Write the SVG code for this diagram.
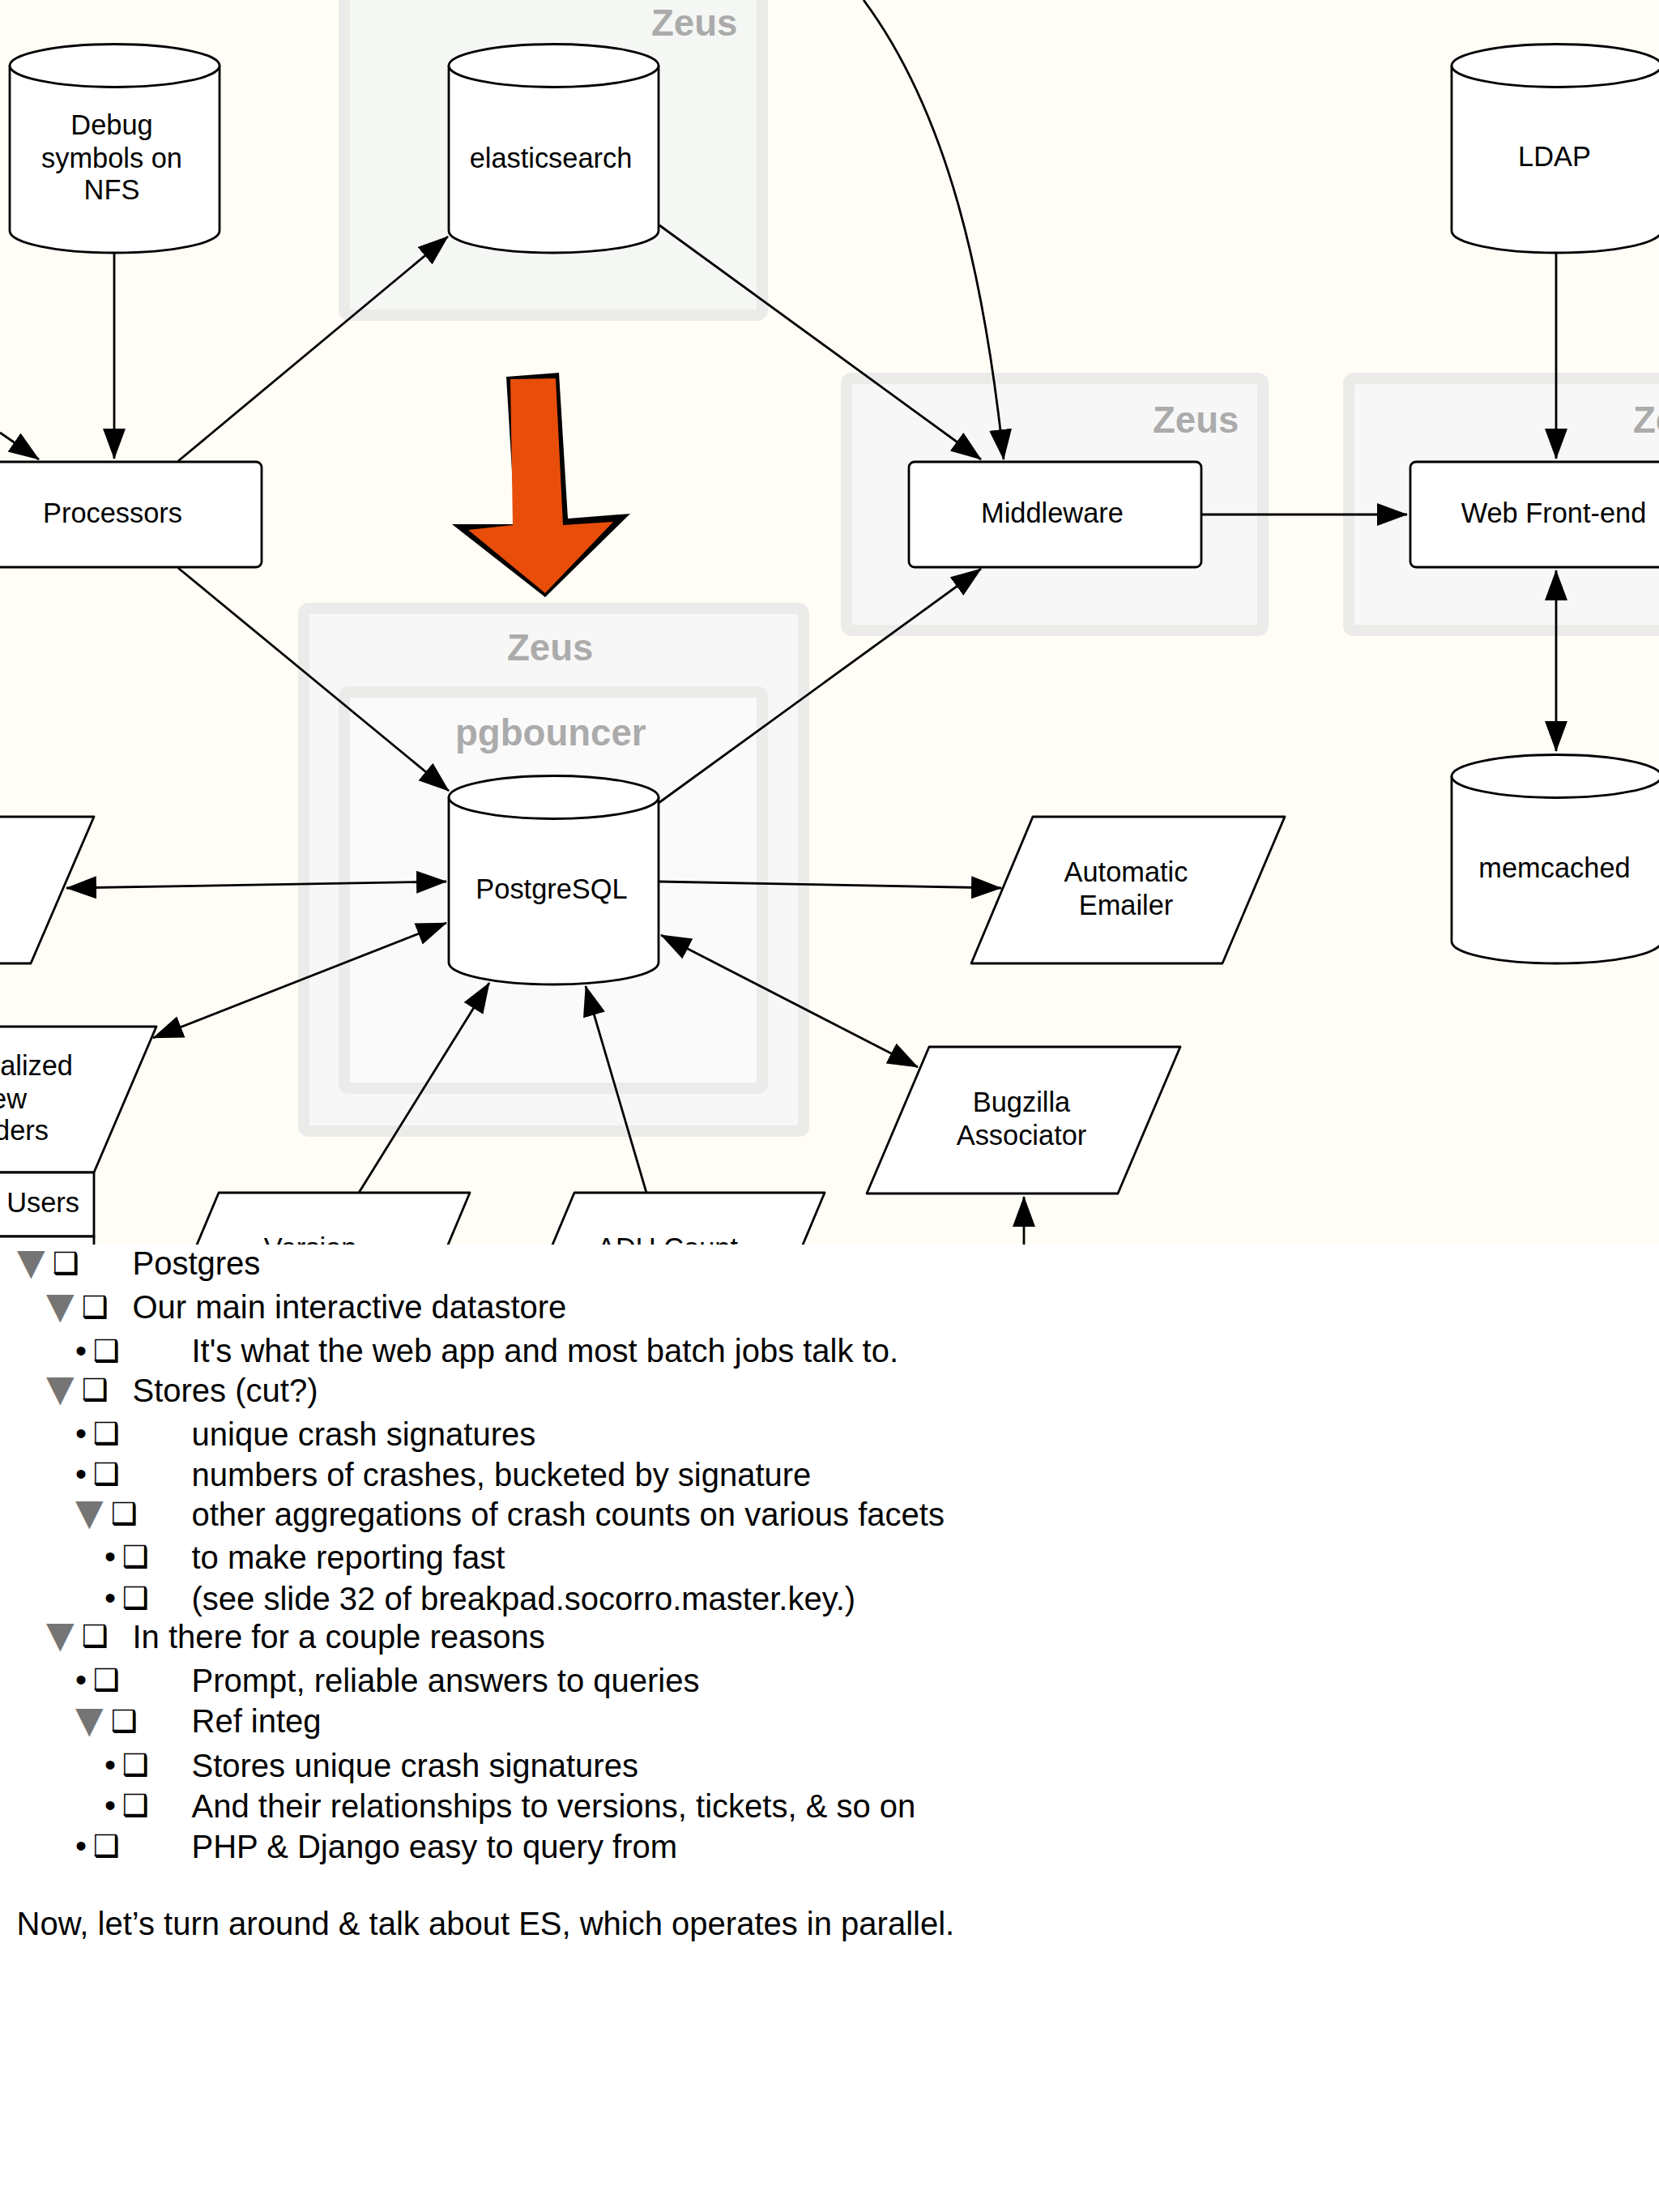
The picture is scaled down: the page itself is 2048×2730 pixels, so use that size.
<svg xmlns="http://www.w3.org/2000/svg" width="2048" height="2730" viewBox="0 0 2048 2730">
<style>
.n{fill:#fff;stroke:#000;stroke-width:2.8;stroke-linejoin:round}
.g{stroke:#ebebe9;stroke-width:14}
.gl{font:bold 45.6px "Liberation Sans",Arial,sans-serif;fill:#ababab}
.t{font:34.4px "Liberation Sans",Arial,sans-serif;fill:#000;text-anchor:middle}
.c{fill:none;stroke:#000;stroke-width:2.8}
.h{marker-end:url(#a)}
.d{marker-start:url(#a);marker-end:url(#a)}
.l{font:40px "Liberation Sans",Arial,sans-serif;fill:#000}
.tri{font:45px "DejaVu Sans",sans-serif;fill:#757575}
.box{font:36px "DejaVu Sans",sans-serif;fill:#000}
.dot{font:40px "Liberation Sans",Arial,sans-serif;fill:#000}
</style>
<defs>
<marker id="a" markerUnits="userSpaceOnUse" markerWidth="40" markerHeight="30" refX="37" refY="14" orient="auto-start-reverse"><path d="M0,0 L38,14 L0,28 Z" fill="#000"/></marker>
<g id="cyl"><path class="n" d="M0,27 V231 C0,246 58,258 129.5,258 S259,246 259,231 V27 Z"/><ellipse class="n" cx="129.5" cy="27" rx="129.5" ry="26.5"/></g>
<path id="sh" d="M27,-26 L30.5,-24 V1 H4 L1,-2.5 H27 Z" fill="#000"/>
</defs>
<rect width="2048" height="2730" fill="#fff"/>
<rect width="2048" height="1536" fill="#fffdf6"/>
<g id="groups">
<g id="zeus-elastic"><rect class="g" x="425" y="-30" width="516" height="419" rx="6" fill="#f5f7f4"/><text class="gl" x="804" y="44">Zeus</text></g>
<g id="zeus-middleware"><rect class="g" x="1045" y="467" width="514" height="311" rx="6" fill="#f8f7f7"/><text class="gl" x="1423" y="534">Zeus</text></g>
<g id="zeus-web"><rect class="g" x="1665" y="467" width="514" height="311" rx="6" fill="#f8f7f7"/><text class="gl" x="2016" y="534">Zeus</text></g>
<g id="zeus-postgres"><rect class="g" x="375" y="751" width="617" height="645" rx="6" fill="#f8f7f7"/><text class="gl" x="626" y="815">Zeus</text></g>
<g id="pgbouncer"><rect class="g" x="425" y="854" width="516" height="489" rx="6" fill="#fbfafa"/><text class="gl" x="562" y="920">pgbouncer</text></g>
</g>
<g id="connectors">
<path class="c h" d="M141,313 V566"/>
<path class="c h" d="M0,534 L48,567"/>
<path class="c h" d="M220,569 L553,292"/>
<path class="c h" d="M814,278 L1211,567"/>
<path class="c h" d="M1066,0 C1170,140 1215,340 1239,567"/>
<path class="c h" d="M1921,313 V566"/>
<path class="c h" d="M1484,635 H1737"/>
<path class="c d" d="M1921,704 V927"/>
<path class="c h" d="M813,991 L1211,702"/>
<path class="c h" d="M220,701 L554,976"/>
<path class="c d" d="M82,1096 L551,1088"/>
<path class="c d" d="M189,1281 L551,1139"/>
<path class="c h" d="M443,1472 L604,1213"/>
<path class="c h" d="M798,1472 L723,1217"/>
<path class="c h" d="M813,1088 L1236,1096"/>
<path class="c d" d="M816,1154 L1133,1317"/>
<path class="c h" d="M1264,1536 V1477"/>
</g>
<g id="debug"><use href="#cyl" x="12" y="54"/><text class="t" x="138" y="166">Debug</text><text class="t" x="138" y="207">symbols on</text><text class="t" x="138" y="246">NFS</text></g>
<g id="elasticsearch"><use href="#cyl" x="554" y="54"/><text class="t" x="680" y="207">elasticsearch</text></g>
<g id="ldap"><use href="#cyl" x="1792" y="54"/><text class="t" x="1919" y="205">LDAP</text></g>
<g id="memcached"><use href="#cyl" x="1792" y="931"/><text class="t" x="1919" y="1083">memcached</text></g>
<g id="postgresql"><use href="#cyl" x="554" y="957"/><text class="t" x="681" y="1109">PostgreSQL</text></g>
<g id="processors"><rect class="n" x="-40" y="570" width="363" height="130" rx="7"/><text class="t" x="139" y="645">Processors</text></g>
<g id="middleware"><rect class="n" x="1122" y="570" width="361" height="130" rx="7"/><text class="t" x="1299" y="645">Middleware</text></g>
<g id="webfrontend"><rect class="n" x="1741" y="570" width="360" height="130" rx="7"/><text class="t" x="1918" y="645">Web Front-end</text></g>
<g id="left-para"><path class="n" d="M-196,1008 H116 L38,1189 H-272 Z"/></g>
<g id="materialized"><path class="n" d="M-117,1267 H193 L116,1447 H-194 Z"/><text class="t" style="text-anchor:end" x="90" y="1327">alized</text><text class="t" style="text-anchor:end" x="33" y="1368">ew</text><text class="t" style="text-anchor:end" x="60" y="1407">ders</text></g>
<g id="users"><rect class="n" x="-60" y="1447" width="176" height="79"/><rect class="n" x="-60" y="1526" width="176" height="30"/><text class="t" style="text-anchor:end" x="98" y="1496">Users</text></g>
<g id="emailer"><path class="n" d="M1275,1008 H1586 L1509,1189 H1199 Z"/><text class="t" x="1390" y="1088">Automatic</text><text class="t" x="1390" y="1129">Emailer</text></g>
<g id="bugzilla"><path class="n" d="M1147,1292 H1457 L1380,1473 H1070 Z"/><text class="t" x="1261" y="1372">Bugzilla</text><text class="t" x="1261" y="1413">Associator</text></g>
<g id="version"><path class="n" d="M270,1472 H580 L504,1653 H194 Z"/><text class="t" x="383" y="1552">Version</text></g>
<g id="adu"><path class="n" d="M709,1472 H1018 L942,1653 H633 Z"/><text class="t" x="824" y="1552">ADU Count</text></g>
<rect y="1536" width="2048" height="1194" fill="#fff"/>
<g id="outline">
<text class="tri" x="21" y="1573">▼</text><use href="#sh" x="65" y="1573"/><text class="box" x="65" y="1571">❑</text><text class="l" x="163.5" y="1573">Postgres</text>
<text class="tri" x="57" y="1627">▼</text><use href="#sh" x="101" y="1627"/><text class="box" x="101" y="1625">❑</text><text class="l" x="163.5" y="1627">Our main interactive datastore</text>
<text class="dot" x="93" y="1681">•</text><use href="#sh" x="115" y="1681"/><text class="box" x="115" y="1679">❑</text><text class="l" x="236.5" y="1681">It's what the web app and most batch jobs talk to.</text>
<text class="tri" x="57" y="1729">▼</text><use href="#sh" x="101" y="1729"/><text class="box" x="101" y="1727">❑</text><text class="l" x="163.5" y="1729.5">Stores (cut?)</text>
<text class="dot" x="93" y="1783">•</text><use href="#sh" x="115" y="1783"/><text class="box" x="115" y="1781">❑</text><text class="l" x="236.5" y="1784">unique crash signatures</text>
<text class="dot" x="93" y="1833">•</text><use href="#sh" x="115" y="1833"/><text class="box" x="115" y="1831">❑</text><text class="l" x="236.5" y="1834">numbers of crashes, bucketed by signature</text>
<text class="tri" x="93" y="1882">▼</text><use href="#sh" x="137" y="1882"/><text class="box" x="137" y="1880">❑</text><text class="l" x="236.5" y="1883">other aggregations of crash counts on various facets</text>
<text class="dot" x="129" y="1935">•</text><use href="#sh" x="151" y="1935"/><text class="box" x="151" y="1933">❑</text><text class="l" x="236.5" y="1935.5">to make reporting fast</text>
<text class="dot" x="129" y="1986">•</text><use href="#sh" x="151" y="1986"/><text class="box" x="151" y="1984">❑</text><text class="l" x="236.5" y="1986.5">(see slide 32 of breakpad.socorro.master.key.)</text>
<text class="tri" x="57" y="2033">▼</text><use href="#sh" x="101" y="2033"/><text class="box" x="101" y="2031">❑</text><text class="l" x="163.5" y="2034">In there for a couple reasons</text>
<text class="dot" x="93" y="2087">•</text><use href="#sh" x="115" y="2087"/><text class="box" x="115" y="2085">❑</text><text class="l" x="236.5" y="2087.5">Prompt, reliable answers to queries</text>
<text class="tri" x="93" y="2138">▼</text><use href="#sh" x="137" y="2138"/><text class="box" x="137" y="2136">❑</text><text class="l" x="236.5" y="2138">Ref integ</text>
<text class="dot" x="129" y="2192">•</text><use href="#sh" x="151" y="2192"/><text class="box" x="151" y="2190">❑</text><text class="l" x="236.5" y="2192.5">Stores unique crash signatures</text>
<text class="dot" x="129" y="2242">•</text><use href="#sh" x="151" y="2242"/><text class="box" x="151" y="2240">❑</text><text class="l" x="236.5" y="2242.5">And their relationships to versions, tickets, &amp; so on</text>
<text class="dot" x="93" y="2292">•</text><use href="#sh" x="115" y="2292"/><text class="box" x="115" y="2290">❑</text><text class="l" x="236.5" y="2292.5">PHP &amp; Django easy to query from</text>
<text class="l" x="20.5" y="2388">Now, let’s turn around &amp; talk about ES, which operates in parallel.</text>
</g>
<g id="focus-arrow"><path d="M625,465 L690,460 L701,640 L778,634 L673,737 L558,647 L636,647 Z" fill="#000"/><path d="M630,468 L686,467 L695,648 L757,644 L673,732 L578,654 L633,648 Z" fill="#e84e0a"/></g>
</svg>
